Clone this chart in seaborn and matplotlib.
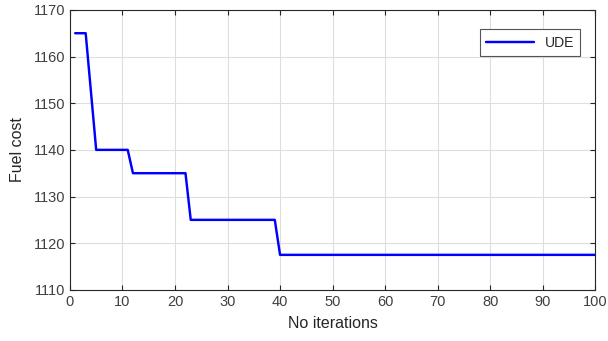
import matplotlib
matplotlib.use("Agg")
import matplotlib.pyplot as plt
import seaborn as sns
import pandas as pd

# points de rupture de la courbe de convergence
iterations = [1, 3, 5, 11, 12, 22, 23, 39, 40, 100]
fuel_cost = [1165, 1165, 1140, 1140, 1135, 1135, 1125, 1125, 1117.5, 1117.5]

df = pd.DataFrame({"No iterations": iterations, "Fuel cost": fuel_cost, "serie": "UDE"})

sns.set_style("ticks")
plt.rcParams["font.family"] = ["Liberation Sans", "DejaVu Sans"]

fig = plt.figure(figsize=(6.08, 3.41), dpi=100)
ax = fig.add_axes([0.115, 0.15, 0.864, 0.821])

sns.lineplot(data=df, x="No iterations", y="Fuel cost", hue="serie",
             palette=["#0000ff"], linewidth=1.75, ax=ax, estimator=None, sort=False)

ax.set_xlim(0, 100)
ax.set_ylim(1110, 1170)
ax.set_xticks(range(0, 101, 10))
ax.set_yticks(range(1110, 1171, 10))
ax.grid(True, color="#dedede", linewidth=0.8)
ax.set_axisbelow(True)
for s in ax.spines.values():
    s.set_visible(True)
    s.set_color("#262626")
    s.set_linewidth(0.8)
ax.tick_params(direction="in", top=True, right=True, length=3.5, width=0.8,
               labelsize=10.5, colors="#262626", labelcolor="#404040")
ax.set_xlabel("No iterations", fontsize=11.5, color="#262626", labelpad=5)
ax.set_ylabel("Fuel cost", fontsize=11.5, color="#262626", labelpad=6)

leg = ax.legend(loc="upper right", bbox_to_anchor=(0.985, 0.955), fontsize=10,
                fancybox=False, framealpha=1, edgecolor="#555555",
                handlelength=3.4, borderpad=0.45)
leg.get_frame().set_linewidth(0.8)

fig.savefig("out.png", dpi=100)
